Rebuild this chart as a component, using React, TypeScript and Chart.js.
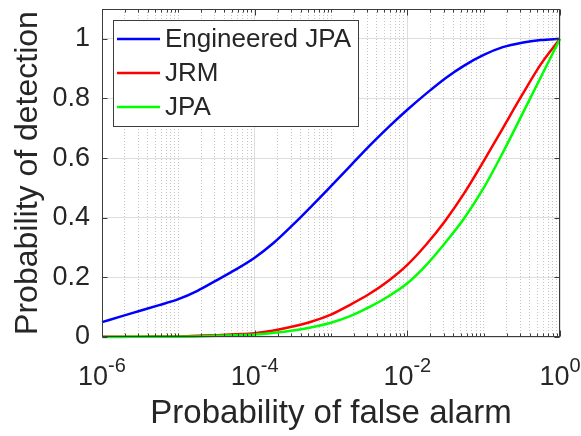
import React, { useEffect, useRef } from 'react';
import { Chart, registerables } from 'chart.js';

Chart.register(...registerables);

// Probability of false alarm (x, log scale), quarter-decade steps
const pfa = [
  1e-6, 1.78e-6, 3.16e-6, 5.62e-6,
  1e-5, 1.78e-5, 3.16e-5, 5.62e-5,
  1e-4, 1.78e-4, 3.16e-4, 5.62e-4,
  1e-3, 1.78e-3, 3.16e-3, 5.62e-3,
  1e-2, 1.78e-2, 3.16e-2, 5.62e-2,
  0.1, 0.178, 0.316, 0.562,
  1,
];

// Probability of detection for each series
const pdEngineeredJPA = [
  0.05, 0.069, 0.088, 0.107,
  0.127, 0.155, 0.19, 0.226,
  0.266, 0.316, 0.376, 0.44,
  0.506, 0.573, 0.64, 0.703,
  0.762, 0.817, 0.868, 0.911,
  0.946, 0.972, 0.987, 0.996,
  1,
];
const pdJRM = [
  0.0005, 0.0007, 0.001, 0.0015,
  0.002, 0.004, 0.006, 0.009,
  0.013, 0.022, 0.035, 0.052,
  0.075, 0.108, 0.144, 0.188,
  0.242, 0.311, 0.391, 0.484,
  0.59, 0.70, 0.81, 0.915,
  1,
];
const pdJPA = [
  0.0003, 0.0004, 0.0006, 0.0008,
  0.001, 0.002, 0.004, 0.006,
  0.008, 0.014, 0.022, 0.033,
  0.048, 0.07, 0.1, 0.136,
  0.18, 0.242, 0.317, 0.4,
  0.5, 0.618, 0.744, 0.872,
  1,
];

const seriesLabels = ['Engineered JPA', 'JRM', 'JPA'];
const seriesColors = ['#0000ff', '#ff0000', '#00ff00'];

const xMajorTicks = [1e-6, 1e-4, 1e-2, 1];
const xTickBase = '10';
const xTickExponents = ['-6', '-4', '-2', '0'];
const xDecades = [1e-6, 1e-5, 1e-4, 1e-3, 1e-2, 1e-1];
const xMultipliers = [1, 2, 3, 4, 5, 6, 7, 8, 9];

const yTicks = [0, 0.2, 0.4, 0.6, 0.8, 1];
const yTickLabels = ['0', '0.2', '0.4', '0.6', '0.8', '1'];

const xTitle = 'Probability of false alarm';
const yTitle = 'Probability of detection';

const FONT = "'Liberation Sans', Arial, Helvetica, sans-serif";
const TEXT = '#262626';

const xAllTicks: number[] = [];
xDecades.forEach((d) => xMultipliers.forEach((m) => xAllTicks.push(m * d)));
xAllTicks.push(1);

const majorIndex = (v: number | undefined) =>
  v === undefined
    ? -1
    : xMajorTicks.findIndex((m) => Math.abs(Math.log10(m) - Math.log10(v)) < 1e-6);
const isMajorX = (v: number | undefined) => majorIndex(v) >= 0;

const boxPlugin = {
  id: 'matlabBox',
  afterDatasetsDraw(chart: any) {
    const { ctx, chartArea } = chart;
    const L = Math.round(chartArea.left) + 0.5;
    const R = Math.round(chartArea.right) - 0.5;
    const T = Math.round(chartArea.top) + 0.5;
    const B = Math.round(chartArea.bottom) - 0.5;
    ctx.save();
    ctx.strokeStyle = '#3c3c3c';
    ctx.lineWidth = 1;
    ctx.strokeRect(L, T, R - L, B - T);
    const xs = chart.scales.x;
    const ys = chart.scales.y;
    ctx.beginPath();
    xAllTicks.forEach((v) => {
      const px = Math.round(xs.getPixelForValue(v)) + 0.5;
      const len = isMajorX(v) ? 6 : 3;
      ctx.moveTo(px, B);
      ctx.lineTo(px, B - len);
      ctx.moveTo(px, T);
      ctx.lineTo(px, T + len);
    });
    yTicks.forEach((v) => {
      const py = Math.round(ys.getPixelForValue(v)) + 0.5;
      ctx.moveTo(L, py);
      ctx.lineTo(L + 5, py);
      ctx.moveTo(R, py);
      ctx.lineTo(R - 5, py);
    });
    ctx.stroke();
    ctx.restore();
  },
  afterDraw(chart: any) {
    const { ctx, chartArea } = chart;
    ctx.save();
    // x tick labels with superscript exponents
    const xs = chart.scales.x;
    ctx.fillStyle = TEXT;
    ctx.textAlign = 'left';
    ctx.textBaseline = 'alphabetic';
    xMajorTicks.forEach((v, i) => {
      const px = xs.getPixelForValue(v);
      const exp = xTickExponents[i];
      ctx.font = `27px ${FONT}`;
      const bw = ctx.measureText(xTickBase).width;
      ctx.font = `20px ${FONT}`;
      const ew = ctx.measureText(exp).width;
      const start = px - (bw + ew) / 2;
      ctx.font = `27px ${FONT}`;
      ctx.fillText(xTickBase, start, chartArea.bottom + 48);
      ctx.font = `20px ${FONT}`;
      ctx.fillText(exp, start + bw, chartArea.bottom + 35);
    });
    // legend
    ctx.fillStyle = '#ffffff';
    ctx.fillRect(113.5, 20.5, 245, 106);
    ctx.strokeStyle = '#3c3c3c';
    ctx.lineWidth = 1;
    ctx.strokeRect(113.5, 20.5, 245, 106);
    ctx.font = `26px ${FONT}`;
    ctx.textBaseline = 'middle';
    ctx.textAlign = 'left';
    chart.data.datasets.forEach((ds: any, i: number) => {
      const y = 39 + i * 34;
      ctx.strokeStyle = ds.borderColor;
      ctx.lineWidth = 2.5;
      ctx.beginPath();
      ctx.moveTo(117, y);
      ctx.lineTo(160, y);
      ctx.stroke();
      ctx.fillStyle = TEXT;
      ctx.fillText(ds.label, 165, y + 1);
    });
    ctx.restore();
  },
};

export default function App() {
  const canvasRef = useRef<HTMLCanvasElement | null>(null);

  useEffect(() => {
    if (!canvasRef.current) return;
    const series = [pdEngineeredJPA, pdJRM, pdJPA];
    const chart = new Chart(canvasRef.current, {
      type: 'line',
      data: {
        datasets: series.map((vals, i) => ({
          label: seriesLabels[i],
          data: pfa.map((x, j) => ({ x, y: vals[j] })),
          borderColor: seriesColors[i],
          backgroundColor: seriesColors[i],
          borderWidth: 2.5,
          pointRadius: 0,
          cubicInterpolationMode: 'monotone' as const,
          fill: false,
          clip: false as any,
          order: 2 - i,
        })),
      },
      options: {
        animation: false,
        responsive: false,
        events: [],
        layout: { padding: { left: 0, top: 9, right: 21, bottom: 0 } },
        plugins: {
          legend: { display: false },
          tooltip: { enabled: false },
        },
        scales: {
          x: {
            type: 'logarithmic',
            min: 1e-6,
            max: 1,
            afterBuildTicks: (s: any) => {
              s.ticks = xAllTicks.map((v) => ({ value: v }));
            },
            afterFit: (s: any) => {
              s.height = 99;
              s.paddingLeft = 0;
              s.paddingRight = 0;
            },
            ticks: {
              display: false,
              autoSkip: false,
              maxRotation: 0,
              minRotation: 0,
              callback: (v: any) => {
                const i = majorIndex(Number(v));
                return i >= 0 ? `${xTickBase}^${xTickExponents[i]}` : '';
              },
            },
            grid: {
              drawTicks: false,
              lineWidth: 1,
              color: (c: any) => (isMajorX(c.tick?.value) ? '#dedede' : '#c4c4c4'),
            },
            border: {
              display: false,
              dash: (c: any) => (c.tick && !isMajorX(c.tick.value) ? [1, 2] : []),
            },
            title: {
              display: true,
              text: xTitle,
              color: TEXT,
              font: { family: FONT, size: 33 },
              padding: { top: 0, bottom: 2 },
            },
          },
          y: {
            type: 'linear',
            min: 0,
            max: 1.1,
            afterBuildTicks: (s: any) => {
              s.ticks = yTicks.map((v) => ({ value: v }));
            },
            afterFit: (s: any) => {
              s.width = 102;
              s.paddingTop = 0;
              s.paddingBottom = 0;
            },
            ticks: {
              padding: 12,
              color: TEXT,
              font: { family: FONT, size: 27 },
              callback: (v: any) => {
                const i = yTicks.findIndex((t) => Math.abs(t - Number(v)) < 1e-9);
                return i >= 0 ? yTickLabels[i] : '';
              },
            },
            grid: {
              drawTicks: false,
              lineWidth: 1,
              color: '#dedede',
            },
            border: { display: false },
            title: {
              display: true,
              text: yTitle,
              color: TEXT,
              font: { family: FONT, size: 32 },
              padding: { top: 9, bottom: 0 },
            },
          },
        },
      },
      plugins: [boxPlugin],
    } as any);
    return () => chart.destroy();
  }, []);

  return (
    <div style={{ position: 'fixed', left: 0, top: 0, width: 581, height: 436, background: '#ffffff' }}>
      <canvas ref={canvasRef} width={581} height={436} style={{ display: 'block' }} />
    </div>
  );
}
